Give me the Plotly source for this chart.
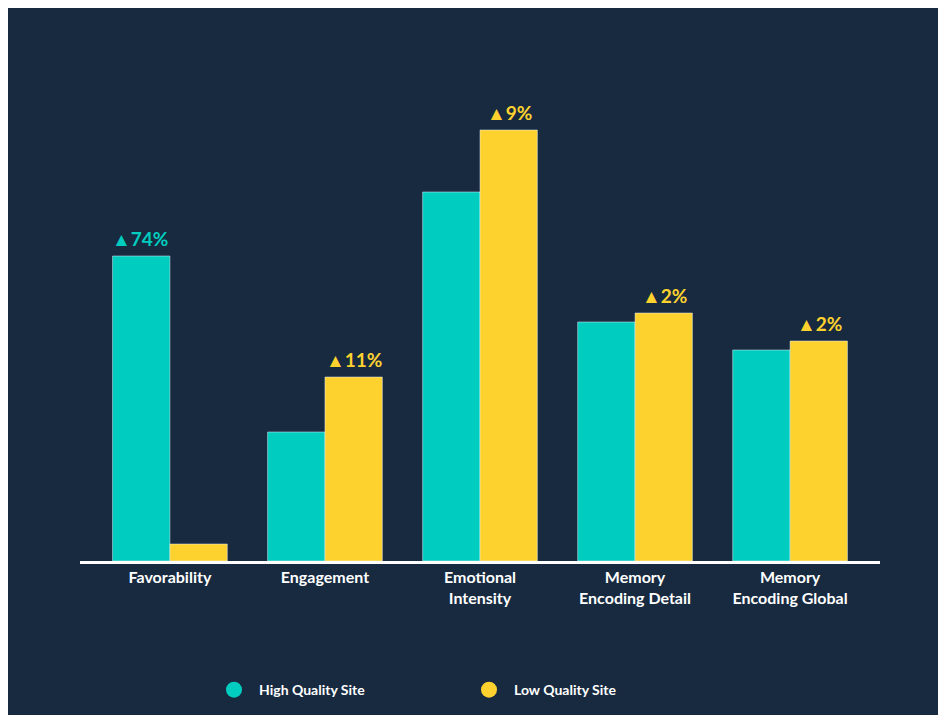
import plotly.graph_objects as go

categories = ["<b>Favorability</b>", "<b>Engagement</b>", "<b>Emotional<br>Intensity</b>",
              "<b>Memory<br>Encoding Detail</b>", "<b>Memory<br>Encoding Global</b>"]
high_quality = [305, 129, 369, 239, 211]
low_quality = [17, 184, 431, 248, 220]
lift_labels = ["▲74%", "▲11%", "▲9%", "▲2%", "▲2%"]
lift_on_high = [True, False, False, False, False]

TEAL = "#00CDBF"
YELLOW = "#FDD22F"

fig = go.Figure()
fig.add_trace(go.Bar(x=categories, y=high_quality, marker_color=TEAL, showlegend=False))
fig.add_trace(go.Bar(x=categories, y=low_quality, marker_color=YELLOW, showlegend=False))

# circle markers for the legend
fig.add_trace(go.Scatter(x=[None], y=[None], mode="markers", name="<b>High Quality Site</b>",
                         marker=dict(color=TEAL, size=16, symbol="circle")))
fig.add_trace(go.Scatter(x=[None], y=[None], mode="markers", name="<b>Low Quality Site</b>",
                         marker=dict(color=YELLOW, size=16, symbol="circle")))

for i, cat in enumerate(categories):
    if lift_on_high[i]:
        y, shift, col = high_quality[i], -0.19, TEAL
    else:
        y, shift, col = low_quality[i], 0.19, YELLOW
    fig.add_annotation(x=i + shift, y=y, text="<b>" + lift_labels[i] + "</b>",
                       showarrow=False, yanchor="bottom", yshift=4,
                       font=dict(size=19, color=col, family="Lato"))

fig.update_layout(
    width=946, height=715,
    barmode="group", bargap=0.26, bargroupgap=0,
    paper_bgcolor="#172a40", plot_bgcolor="rgba(0,0,0,0)",
    margin=dict(l=72, r=74, t=92, b=162),
    font=dict(family="Lato", color="white"),
    xaxis=dict(range=[-0.58, 4.58], showline=True, linecolor="white", linewidth=3,
               showgrid=False, ticks="", tickfont=dict(size=16, color="white")),
    yaxis=dict(range=[0, 461], visible=False),
    legend=dict(orientation="h", x=0.48, xanchor="center", y=-0.28, yanchor="middle",
                font=dict(size=14, color="white"), itemwidth=40, entrywidth=200),
)

fig.write_html("out.html")
